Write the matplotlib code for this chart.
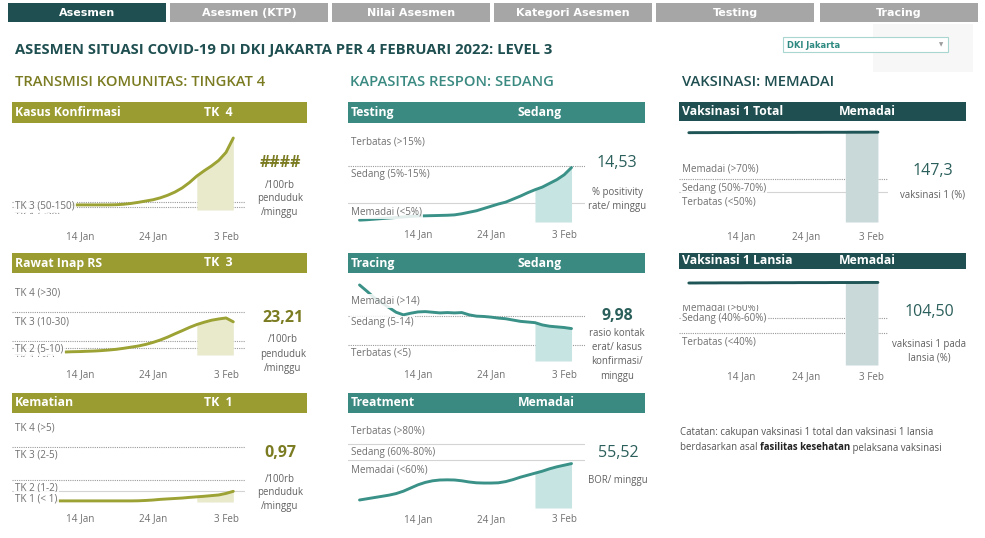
import matplotlib
matplotlib.use('Agg')
import matplotlib.pyplot as plt
import matplotlib.dates as mdates
from matplotlib.patches import Rectangle
from matplotlib.transforms import Bbox, TransformedBbox
import numpy as np
import pandas as pd

plt.rcParams['font.family'] = ['Open Sans', 'DejaVu Sans']

W, H = 985, 538

# ---------------- data ----------------
tabs = ['Asesmen', 'Asesmen (KTP)', 'Nilai Asesmen', 'Kategori Asesmen', 'Testing', 'Tracing']

kasus_dates = pd.date_range('2022-01-13', '2022-02-04')
kasus = [32, 32, 32, 32, 32, 32, 33, 36, 41, 48, 56, 64, 76, 92, 112, 138, 172, 212,
         245, 275, 310, 360, 450]

rawat_dates = pd.date_range('2022-01-12', '2022-02-04')
rawat = [2.1, 2.3, 2.4, 2.6, 2.8, 3.1, 3.5, 4.0, 4.7, 5.5, 6.3, 7.4, 8.8, 10.5, 12.5,
         14.8, 17.0, 19.3, 21.3, 22.9, 24.3, 25.2, 25.9, 23.21]

mati_dates = pd.date_range('2022-01-11', '2022-02-04')
mati = [0.10, 0.10, 0.10, 0.10, 0.10, 0.10, 0.10, 0.10, 0.10, 0.10, 0.10, 0.11, 0.14,
        0.18, 0.24, 0.28, 0.32, 0.36, 0.42, 0.47, 0.52, 0.58, 0.64, 0.78, 0.97]

respon_dates = pd.date_range('2022-01-06', '2022-02-04')
testing = [0.5, 0.6, 0.75, 0.9, 1.05, 1.2, 1.35, 1.5, 1.6, 1.65, 1.7, 1.75, 1.8, 1.9, 2.2,
           2.6, 3.0, 3.6, 4.2, 4.8, 5.3, 6.1, 6.9, 7.8, 8.6, 9.3, 10.3, 11.3, 12.6, 14.53]
tracing = [23.4, 21.5, 19.5, 18.0, 16.5, 15.0, 14.2, 14.7, 15.1, 15.2, 15.0, 14.8, 14.9,
           14.8, 14.9, 14.2, 13.8, 13.7, 13.5, 13.2, 13.0, 12.6, 12.2, 12.0, 11.8, 11.1,
           10.7, 10.5, 10.3, 9.98]
treatment = [10, 11.5, 13, 14.5, 16, 18, 21, 25, 29, 32, 34, 35, 35.2, 35, 34, 32.5, 31.5,
             31.2, 31.2, 31.5, 33, 35.5, 38.5, 41, 43.5, 46, 49, 51.5, 53.5, 55.52]

vaks_dates = pd.date_range('2022-01-06', '2022-02-04')
vaks_total = [146.4, 146.5, 146.5, 146.5, 146.6, 146.6, 146.6, 146.7, 146.7, 146.7, 146.8,
              146.8, 146.8, 146.9, 146.9, 146.9, 146.9, 147.0, 147.0, 147.0, 147.0, 147.1,
              147.1, 147.1, 147.1, 147.2, 147.2, 147.2, 147.3, 147.3]
vaks_lansia = [103.8, 103.8, 103.9, 103.9, 103.9, 104.0, 104.0, 104.0, 104.0, 104.1, 104.1,
               104.1, 104.1, 104.2, 104.2, 104.2, 104.2, 104.3, 104.3, 104.3, 104.3, 104.3,
               104.4, 104.4, 104.4, 104.4, 104.4, 104.5, 104.5, 104.5]

tick_dates = ['2022-01-14', '2022-01-24', '2022-02-03']
shade_from = '2022-01-30'

# colours
OLIVE_BAR, OLIVE_LINE, OLIVE_SHADE, OLIVE_TXT = '#9a9b30', '#9ca233', '#e9e9cc', '#7b7c22'
TEAL_BAR, TEAL_LINE, TEAL_SHADE, TEAL_TXT = '#3b8a81', '#3a9187', '#c6e5e2', '#3a8a81'
DARK_BAR, DARK_LINE, DARK_SHADE, DARK_TXT = '#1f4f50', '#1f5556', '#c9d9da', '#1f4f50'
GRAY = '#707070'
VAL_TEAL = '#2b5f5b'
LBL = 7.1

fig = plt.figure(figsize=(W / 100, H / 100), dpi=100)
base = fig.add_axes([0, 0, 1, 1])
base.set_xlim(0, W)
base.set_ylim(H, 0)
base.axis('off')

# tabs
tab_x = [8, 170, 332, 494, 656, 820]
for i, (name, x0) in enumerate(zip(tabs, tab_x)):
    base.add_patch(Rectangle((x0, 3), 158, 19, color=DARK_BAR if i == 0 else '#a6a6a6', lw=0))
    base.text(x0 + 79, 13, name, ha='center', va='center', color='white', fontsize=8,
              fontweight='bold', family=['Liberation Sans Narrow', 'DejaVu Sans'])

# title + dropdown
base.text(15, 50, 'ASESMEN SITUASI COVID-19 DI DKI JAKARTA PER 4 FEBRUARI 2022: LEVEL 3',
          ha='left', va='center', color=DARK_TXT, fontsize=10.6, fontweight='bold')
base.add_patch(Rectangle((873, 24), 100, 48, color='#f7f7f7', lw=0))
base.add_patch(Rectangle((783, 37), 165, 15, facecolor='white', edgecolor='#a9d6d1', lw=0.8))
base.text(787, 45, 'DKI Jakarta', ha='left', va='center', color='#2e8a80', fontsize=6,
          fontweight='bold', family=['Liberation Sans Narrow', 'DejaVu Sans'])
base.text(941, 45, '\u25BC', ha='center', va='center', color='#9a9a9a', fontsize=4,
          family='DejaVu Sans')

# section headings
base.text(15, 82, 'TRANSMISI KOMUNITAS: TINGKAT 4', color=OLIVE_TXT, fontsize=10.6,
          va='center', fontweight='semibold')
base.text(350, 82, 'KAPASITAS RESPON: SEDANG', color=TEAL_TXT, fontsize=10.6,
          va='center', fontweight='semibold')
base.text(682, 82, 'VAKSINASI: MEMADAI', color=DARK_TXT, fontsize=10.6,
          va='center', fontweight='semibold')


def header(x0, x1, y0, y1, color, name, level, lx):
    base.add_patch(Rectangle((x0, y0), x1 - x0, y1 - y0, color=color, lw=0))
    yc = (y0 + y1) / 2
    base.text(x0 + 3, yc, name, color='white', fontsize=8.8, fontweight='bold', va='center')
    base.text(lx, yc, level, color='white', fontsize=8.8, fontweight='bold', va='center')


def chart(box, x14, ppd, y0, ppu, dates, vals, line_c, shade_c, thresholds, labels, tick_y):
    left, top, right, bottom = box
    ax = fig.add_axes([left / W, 1 - bottom / H, (right - left) / W, (bottom - top) / H])
    t14 = mdates.date2num(pd.Timestamp('2022-01-14'))
    ax.set_xlim(t14 + (left - x14) / ppd, t14 + (right - x14) / ppd)
    ax.set_ylim((y0 - bottom) / ppu, (y0 - top) / ppu)
    ax.patch.set_visible(False)
    for s in ax.spines.values():
        s.set_visible(False)
    ax.set_yticks([])
    ax.set_xticks(pd.to_datetime(tick_dates))
    ax.xaxis.set_major_formatter(mdates.DateFormatter('%-d %b'))
    ax.tick_params(axis='x', length=0, labelsize=LBL, labelcolor=GRAY,
                   pad=(tick_y - bottom - 5.5) * 0.72)
    for v, ls in thresholds:
        if ls == '-':
            ax.axhline(v, color='#d4d4d4', lw=0.8, zorder=1)
        else:
            ax.axhline(v, color='#9a9a9a', lw=0.8, ls=(0, (1, 1)), zorder=1)
    vals = np.asarray(vals, dtype=float)
    ax.plot(dates, vals, color=line_c, lw=2.1, zorder=3, solid_capstyle='round')
    m = dates >= pd.Timestamp(shade_from)
    ax.fill_between(dates[m], 0, vals[m], color=shade_c, lw=0, zorder=2)
    xl = ax.get_xlim()[0] + 3 / ppd
    for text, ypx, clip in labels:
        t = ax.text(xl, (y0 - ypx) / ppu, text, ha='left', va='center', fontsize=LBL,
                    color=GRAY, zorder=4,
                    bbox=dict(boxstyle='square,pad=0.12', fc='white', ec='none', alpha=0.85))
        if clip == 'bottom':
            t.set_clip_on(True)
        elif clip is not None:
            lo, hi = ax.get_ylim()
            t.set_clip_box(TransformedBbox(
                Bbox.from_extents(ax.get_xlim()[0], lo, ax.get_xlim()[1], (y0 - clip) / ppu),
                ax.transData))
            t.set_clip_on(True)
    return ax


def value(x, y, s, color, weight, lines, ly, size=11.5):
    base.text(x, y, s, ha='center', va='center', color=color, fontsize=size, fontweight=weight)
    for i, ln in enumerate(lines):
        base.text(x, ly + 14 * i, ln, ha='center', va='center', color='#606060', fontsize=6.9)


# ---------- column 1 : transmisi komunitas ----------
header(12, 307, 102, 123, OLIVE_BAR, 'Kasus Konfirmasi', 'TK  4', 204)
chart((12, 128, 245, 214), 80, 7.3, 210, 0.16, kasus_dates, kasus, OLIVE_LINE, OLIVE_SHADE,
      [(50, ':'), (20, ':')],
      [('TK 1 (<20)', 216.5, 'bottom'), ('TK 3 (50-150)', 206, None)], 237)
value(280, 163, '####', OLIVE_TXT, 'bold', ['/100rb', 'penduduk', '/minggu'], 185)

header(12, 307, 253, 273, OLIVE_BAR, 'Rawat Inap RS', 'TK  3', 204)
chart((12, 282, 245, 357), 80, 7.3, 355, 1.43, rawat_dates, rawat, OLIVE_LINE, OLIVE_SHADE,
      [(30, ':'), (10, ':'), (5, ':')],
      [('TK 4 (>30)', 293, None), ('TK 3 (10-30)', 322, None),
       ('TK 1 (<5)', 359, 'bottom'), ('TK 2 (5-10)', 349, None)], 375)
value(283, 318, '23,21', OLIVE_TXT, 'bold', ['/100rb', 'penduduk', '/minggu'], 340)

header(12, 307, 393, 413, OLIVE_BAR, 'Kematian', 'TK  1', 204)
chart((12, 420, 245, 505), 80, 7.3, 502, 11.0, mati_dates, mati, OLIVE_LINE, OLIVE_SHADE,
      [(5, ':'), (2, ':'), (1, '-')],
      [('TK 4 (>5)', 428, None), ('TK 3 (2-5)', 455, None),
       ('TK 2 (1-2)', 488, None), ('TK 1 (< 1)', 499, None)], 519)
value(280, 453, '0,97', OLIVE_TXT, 'bold', ['/100rb', 'penduduk', '/minggu'], 479)

# ---------- column 2 : kapasitas respon ----------
header(348, 645, 102, 123, TEAL_BAR, 'Testing', 'Sedang', 518)
chart((348, 128, 585, 224), 418, 7.31, 222, 3.75, respon_dates, testing, TEAL_LINE, TEAL_SHADE,
      [(15, ':'), (5, '-')],
      [('Terbatas (>15%)', 142, None), ('Sedang (5%-15%)', 175, None),
       ('Memadai (<5%)', 212, None)], 235)
value(617, 163, '14,53', VAL_TEAL, 'normal', ['% positivity', 'rate/ minggu'], 192)

header(348, 645, 253, 273, TEAL_BAR, 'Tracing', 'Sedang', 518)
chart((348, 280, 585, 363), 418, 7.31, 361, 3.25, respon_dates, tracing, TEAL_LINE, TEAL_SHADE,
      [(14, ':'), (5, ':')],
      [('Memadai (>14)', 301, None), ('Sedang (5-14)', 323, None),
       ('Terbatas (<5)', 353, None)], 375)
value(617, 316, '9,98', VAL_TEAL, 'bold', ['rasio kontak', 'erat/ kasus', 'konfirmasi/', 'minggu'], 334)

header(348, 645, 393, 413, TEAL_BAR, 'Treatment', 'Memadai', 518)
chart((348, 420, 585, 509), 418, 7.31, 508, 0.8, respon_dates, treatment, TEAL_LINE, TEAL_SHADE,
      [(80, '-'), (60, '-')],
      [('Terbatas (>80%)', 431, None), ('Sedang (60%-80%)', 453, None),
       ('Memadai (<60%)', 470, None)], 520)
value(618, 453, '55,52', VAL_TEAL, 'normal', ['BOR/ minggu'], 481)

# ---------- column 3 : vaksinasi ----------
header(679, 966, 102, 121, DARK_BAR, 'Vaksinasi 1 Total', 'Memadai', 839)
chart((679, 125, 888, 224), 741, 6.52, 222, 0.61, vaks_dates, vaks_total, DARK_LINE, DARK_SHADE,
      [(70, ':'), (50, '-')],
      [('Memadai (>70%)', 169, None), ('Sedang (50%-70%)', 189, None),
       ('Terbatas (<50%)', 202, None)], 237)
value(933, 171, '147,3', VAL_TEAL, 'normal', ['vaksinasi 1 (%)'], 195)

header(679, 966, 253, 269, DARK_BAR, 'Vaksinasi 1 Lansia', 'Memadai', 839)
chart((679, 275, 888, 367), 741, 6.52, 365, 0.79, vaks_dates, vaks_lansia, DARK_LINE, DARK_SHADE,
      [(60, ':'), (40, ':')],
      [('Memadai (>60%)', 308, 305), ('Sedang (40%-60%)', 318, None),
       ('Terbatas (<40%)', 342, None)], 377)
value(929, 312, '104,50', VAL_TEAL, 'normal', ['vaksinasi 1 pada', 'lansia (%)'], 344)

# note
NOTE = 6.9
base.text(680, 433, 'Catatan: cakupan vaksinasi 1 total dan vaksinasi 1 lansia',
          color='#555555', fontsize=NOTE, va='center')
r = fig.canvas.get_renderer()
t1 = base.text(680, 448, 'berdasarkan asal ', color='#555555', fontsize=NOTE, va='center')
x = t1.get_window_extent(r).x1
t2 = base.text(x, 448, 'fasilitas kesehatan', color='#222222', fontsize=NOTE, va='center',
               fontweight='bold')
x = t2.get_window_extent(r).x1
base.text(x, 448, ' pelaksana vaksinasi', color='#555555', fontsize=NOTE, va='center')

fig.savefig('out.png', dpi=100)
